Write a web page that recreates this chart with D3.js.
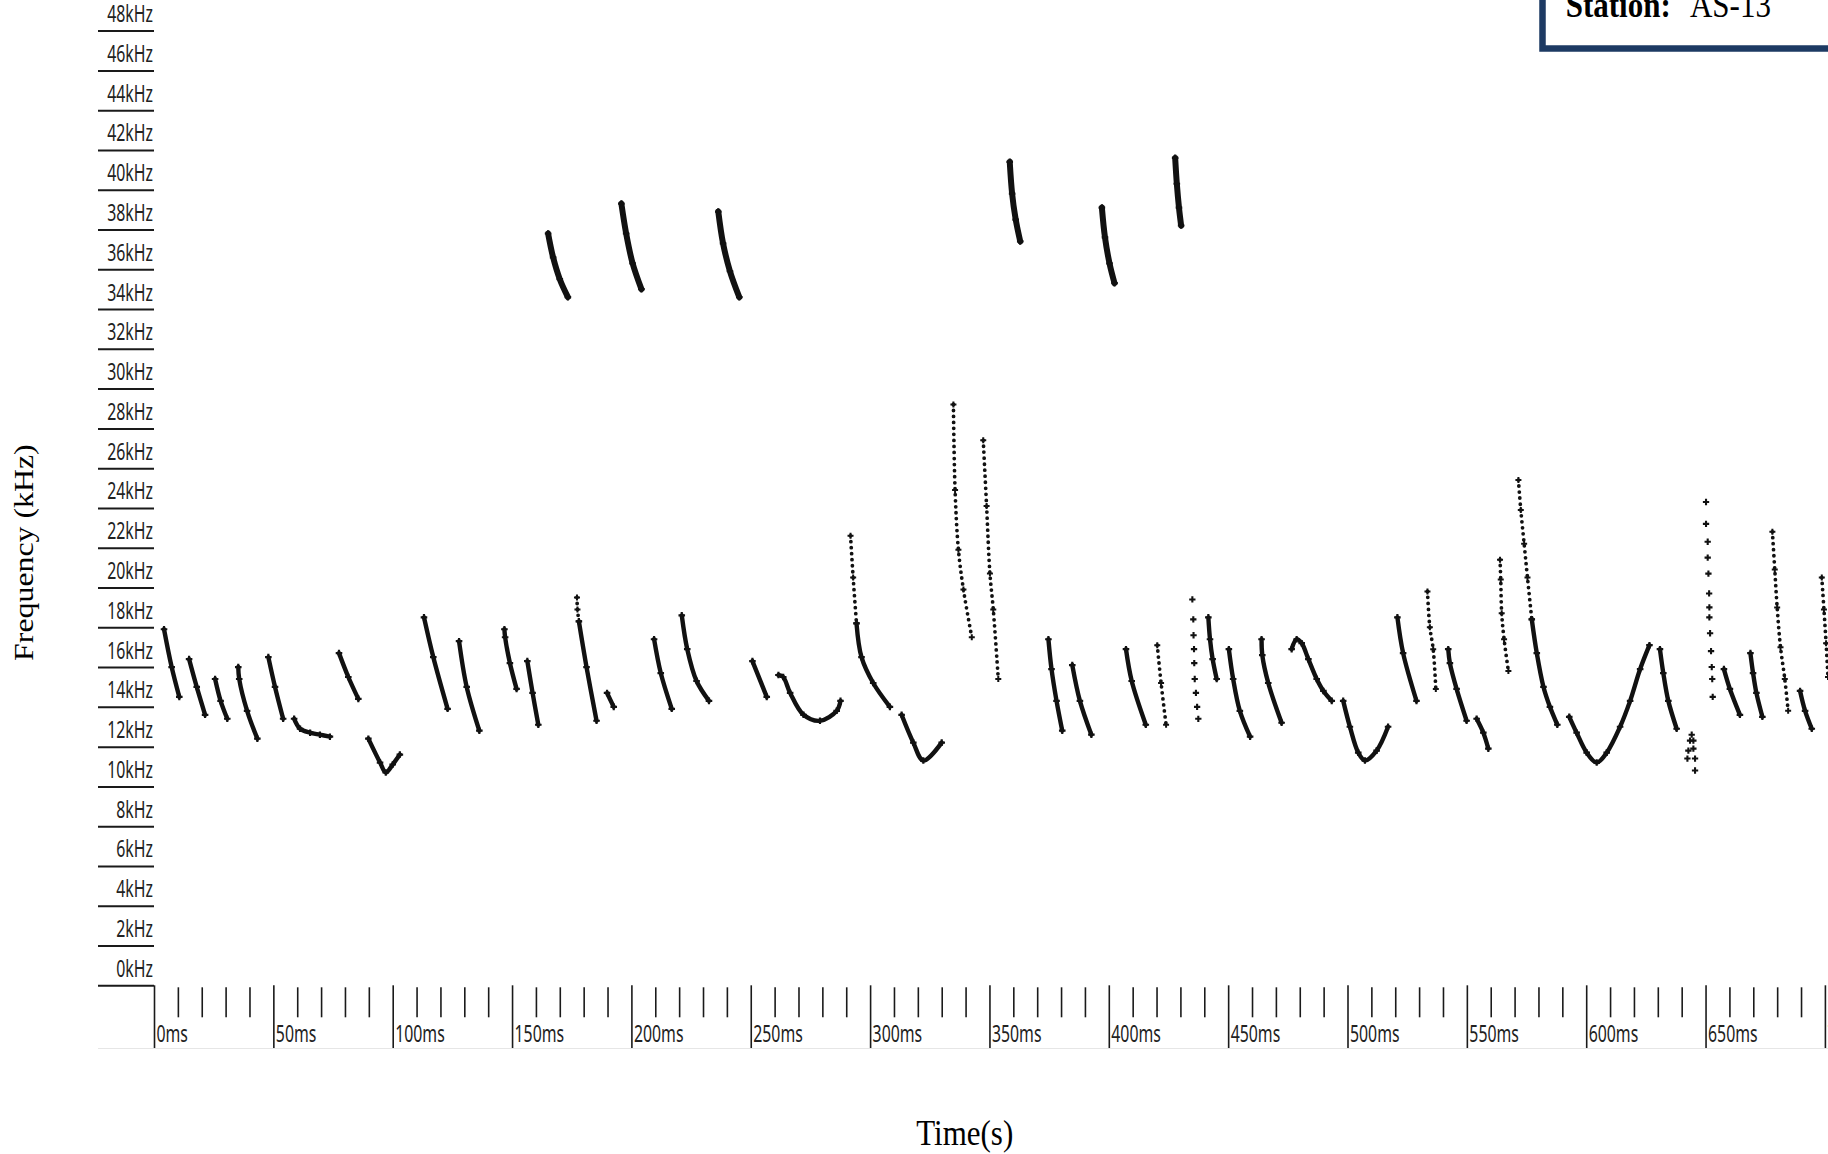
<!DOCTYPE html>
<html>
<head>
<meta charset="utf-8">
<script src="https://cdn.jsdelivr.net/npm/d3@7"></script>
<style>
body{margin:0;background:#fff;}
#batGraph{display:block;}
</style>
</head>
<body>
<svg id="batGraph"></svg>
<script>
// tick values
var freqTicks=[0,2,4,6,8,10,12,14,16,18,20,22,24,26,28,30,32,34,36,38,40,42,44,46,48]
var timeTicks=[0,50,100,150,200,250,300,350,400,450,500,550,600,650,700]
var minorTicks=[10,20,30,40,60,70,80,90,110,120,130,140,160,170,180,190,210,220,230,240,260,270,280,290,310,320,330,340,360,370,380,390,410,420,430,440,460,470,480,490,510,520,530,540,560,570,580,590,610,620,630,640,660,670,680,690]

// [ms, kHz] points
var lowCalls=[
 [[4.2,17.9],[7.4,16.0],[10.6,14.5]],
 [[14.7,16.4],[17.9,15.0],[21.4,13.6]],
 [[25.6,15.4],[27.9,14.3],[30.7,13.4]],
 [[35.3,16.0],[35.7,15.4],[39.0,13.8],[43.3,12.4]],
 [[47.9,16.5],[50.7,15.0],[54.1,13.4]],
 [[58.7,13.4],[61.2,12.9],[65.4,12.7],[69.5,12.6],[73.7,12.5]],
 [[77.5,16.7],[81.4,15.5],[85.6,14.4]],
 [[89.8,12.4],[94.7,11.2],[97.1,10.7],[100.0,11.1],[103.0,11.6]],
 [[113.1,18.5],[117.0,16.5],[123.0,13.9]],
 [[127.8,17.3],[131.0,15.0],[136.3,12.8]],
 [[146.8,17.9],[147.1,17.5],[149.1,16.2],[151.9,14.9]],
 [[156.4,16.3],[158.6,14.7],[161.0,13.1]],
 [[178.0,18.3],[181.2,16.0],[185.4,13.3]],
 [[189.8,14.7],[192.6,14.0]],
 [[209.5,17.4],[212.3,15.7],[216.9,13.9]],
 [[221.1,18.6],[223.4,16.9],[227.3,15.3],[232.5,14.3]],
 [[250.7,16.3],[256.7,14.5]],
 [[261.6,15.6],[263.6,15.5],[266.5,14.7],[272.1,13.6],[279.0,13.3],[286.0,13.8],[287.6,14.3]],
 [[294.3,18.2],[296.4,16.5],[301.3,15.2],[308.3,14.0]],
 [[313.2,13.6],[318.1,12.2],[322.3,11.3],[330.0,12.2]],
 [[374.7,17.4],[376.0,15.9],[378.1,14.3],[380.5,12.8]],
 [[384.7,16.1],[387.9,14.3],[392.7,12.6]],
 [[407.2,16.9],[409.6,15.3],[415.5,13.1]],
 [[441.7,18.5],[442.4,17.4],[443.5,16.4],[445.2,15.4]],
 [[450.3,16.9],[452.1,15.4],[454.9,13.8],[459.2,12.5]],
 [[464.0,17.4],[464.3,16.6],[466.8,15.2],[472.4,13.2]],
 [[476.6,16.9],[478.7,17.4],[480.8,17.2],[483.6,16.4],[487.1,15.4],[489.9,14.8],[493.4,14.3]],
 [[498.2,14.3],[501.0,13.0],[504.5,11.7],[507.3,11.3],[512.2,11.8],[517.0,13.0]],
 [[520.9,18.5],[523.3,16.7],[528.9,14.3]],
 [[542.2,16.9],[542.9,16.2],[545.7,14.9],[549.9,13.3]],
 [[554.1,13.4],[556.9,12.7],[559.0,11.9]],
 [[577.2,18.4],[579.3,16.7],[582.1,15.0],[584.8,14.0],[587.9,13.1]],
 [[592.9,13.5],[596.0,12.7],[600.2,11.7],[604.4,11.2],[608.6,11.7],[614.2,13.0],[618.4,14.3],[622.6,15.9],[626.5,17.1]],
 [[630.9,16.9],[632.3,15.7],[634.4,14.3],[637.9,12.9]],
 [[657.7,15.9],[660.2,14.9],[664.4,13.6]],
 [[668.8,16.7],[669.9,15.7],[671.3,14.7],[673.8,13.5]],
 [[689.6,14.8],[691.7,13.8],[694.5,12.9]]
]

var highCalls=[
 [[165.1,37.8],[167.2,36.6],[170.0,35.5],[173.4,34.6]],
 [[195.8,39.3],[197.8,37.8],[200.5,36.3],[204.2,35.0]],
 [[236.4,38.9],[238.4,37.3],[241.3,35.9],[245.2,34.6]],
 [[358.5,41.4],[359.5,39.8],[361.0,38.5],[362.9,37.4]],
 [[397.1,39.1],[398.4,37.6],[400.3,36.3],[402.4,35.3]],
 [[427.8,41.6],[428.5,40.3],[429.4,39.1],[430.3,38.2]]
]

// loosely spaced dot trains
var trainCalls=[
 [[177.2,19.5],[177.4,18.9],[178.0,18.3]],
 [[291.8,22.6],[292.9,20.5],[294.3,18.2]],
 [[334.9,29.2],[335.6,24.9],[337.0,21.9],[339.1,19.9],[342.6,17.5]],
 [[347.4,27.4],[348.8,24.1],[350.2,20.7],[351.6,18.9],[353.7,15.4]],
 [[420.3,17.1],[421.9,15.2],[424.0,13.1]],
 [[533.5,19.8],[534.5,18.0],[535.9,16.9],[537.0,14.9]],
 [[563.9,21.4],[564.2,20.4],[564.6,18.7],[565.6,17.4],[567.4,15.8]],
 [[571.6,25.4],[572.6,23.9],[574.0,22.2],[575.4,20.5],[577.2,18.4]],
 [[678.0,22.8],[679.0,20.9],[680.0,19.0],[681.4,17.0],[683.2,15.4],[684.6,13.8]],
 [[698.7,20.5],[699.6,18.9],[700.5,17.2],[701.3,15.5]]
]

// single dots, one entry per mark
var dotCalls=[
 [[435.0,19.4],[435.4,18.4],[435.5,17.6],[435.7,16.9],[435.8,16.2],[436.0,15.4],[436.5,14.7],[437.0,14.0],[437.5,13.4]],
 [[642.4,11.4],[642.8,11.8],[643.5,12.3],[644.2,12.6],[644.9,12.3],[644.9,11.9],[645.6,11.4],[645.6,10.8]],
 [[650.2,24.3],[650.2,23.2],[650.9,22.3],[650.9,21.5],[651.2,20.7],[651.5,19.7],[651.6,19.0],[651.6,18.5],[651.9,17.7],[652.3,16.8],[652.6,16.0],[652.8,15.4],[653.0,14.5]]
]

var stationName="AS-13"

var drawCalls=function(calls,target,xScale,yScale,width,dash)
{
    var line=d3.line()
        .x(function(d){return xScale(d[0])})
        .y(function(d){return yScale(d[1])})
        .curve(d3.curveCatmullRom.alpha(0.5))

    target.append("g")
        .selectAll("path")
        .data(calls)
        .enter()
        .append("path")
        .attr("d",line)
        .attr("fill","none")
        .attr("stroke","#111")
        .attr("stroke-width",width)
        .attr("stroke-linecap","round")
        .attr("stroke-linejoin","round")
        .attr("stroke-dasharray",dash)
}

var drawDots=function(calls,target,xScale,yScale,size)
{
    var pts=[]
    calls.forEach(function(c){c.forEach(function(p){pts.push(p)})})
    target.append("g")
        .selectAll("path")
        .data(pts)
        .enter()
        .append("path")
        .attr("d",d3.symbol(d3.symbolCross,size))
        .attr("transform",function(d){
            return "translate("+xScale(d[0])+","+yScale(d[1])+")"
        })
        .attr("fill","#111")
}

var drawAxes=function(svg,xScale,yScale)
{
    var yAxis=d3.axisLeft(yScale)
        .tickValues(freqTicks)
        .tickSize(56)
        .tickFormat(function(d){return d+"kHz"})

    var ya=svg.append("g")
        .attr("class","yaxis")
        .attr("transform","translate(154,0)")
        .call(yAxis)
    ya.select(".domain").remove()
    ya.selectAll("line").attr("stroke","#1a1a1a").attr("stroke-width",2)
    ya.selectAll("text")
        .attr("x",0).attr("dy",null)
        .attr("text-anchor","end")
        .attr("transform","translate(-1,-9) scale(0.66,1)")
        .attr("font-family","Noto Sans")
        .attr("font-size",24)
        .attr("fill","#222")

    var xAxis=d3.axisBottom(xScale)
        .tickValues(timeTicks)
        .tickSize(63)
        .tickFormat(function(d){return d+"ms"})

    var xa=svg.append("g")
        .attr("class","xaxis")
        .attr("transform","translate(0,985.3)")
        .call(xAxis)
    xa.select(".domain").remove()
    xa.selectAll("line").attr("stroke","#1a1a1a").attr("stroke-width",1.6)
    xa.selectAll("text")
        .attr("y",0).attr("dy",null)
        .attr("text-anchor","start")
        .attr("transform","translate(2,57) scale(0.66,1)")
        .attr("font-family","Noto Sans")
        .attr("font-size",24)
        .attr("fill","#222")

    var xMinor=d3.axisBottom(xScale)
        .tickValues(minorTicks)
        .tickSize(30)
        .tickFormat("")

    var xm=svg.append("g")
        .attr("class","xminor")
        .attr("transform","translate(0,987.3)")
        .call(xMinor)
    xm.select(".domain").remove()
    xm.selectAll("line").attr("stroke","#1a1a1a").attr("stroke-width",1.6)

    svg.append("line")
        .attr("x1",98).attr("x2",1828)
        .attr("y1",1048.5).attr("y2",1048.5)
        .attr("stroke","#e6e6e6")
        .attr("stroke-width",1)
}

var drawLabels=function(svg)
{
    svg.append("text")
        .text("Frequency (kHz)")
        .attr("text-anchor","middle")
        .attr("transform","translate(33,552.6) rotate(-90) scale(1.18,1)")
        .attr("font-family","Liberation Serif")
        .attr("font-size",27)
        .attr("fill","#000")

    svg.append("text")
        .text("Time(s)")
        .attr("text-anchor","middle")
        .attr("transform","translate(964.7,1145) scale(1,1.18)")
        .attr("font-family","Liberation Serif")
        .attr("font-size",31)
        .attr("fill","#000")

    svg.append("rect")
        .attr("x",1542.5).attr("y",-30)
        .attr("width",400).attr("height",78.5)
        .attr("fill","#fff")
        .attr("stroke","#1d3a63")
        .attr("stroke-width",6.5)

    var st=svg.append("text")
        .attr("transform","translate(1565.7,17) scale(1,1.18)")
        .attr("font-family","Liberation Serif")
        .attr("font-size",31)
        .attr("fill","#000")
    st.append("tspan").attr("x",0).attr("font-weight","bold").text("Station:")
    st.append("tspan").attr("x",124.3).text(stationName)
}

var initGraph=function()
{
    var screen={width:1828,height:1154}
    var svg=d3.select("#batGraph")
        .attr("width",screen.width)
        .attr("height",screen.height)

    var xScale=d3.scaleLinear()
        .domain([0,700])
        .range([154,1824.9])
    var yScale=d3.scaleLinear()
        .domain([0,48])
        .range([985.3,30.6])

    drawAxes(svg,xScale,yScale)

    var plot=svg.append("g").attr("class","calls")
    drawCalls(lowCalls,plot,xScale,yScale,4.4,null)
    drawCalls(highCalls,plot,xScale,yScale,6,null)
    drawCalls(trainCalls,plot,xScale,yScale,3.8,"0,6")
    drawDots(lowCalls,plot,xScale,yScale,24)
    drawDots(highCalls,plot,xScale,yScale,24)
    drawDots(trainCalls,plot,xScale,yScale,20)
    drawDots(dotCalls,plot,xScale,yScale,22)

    drawLabels(svg)
}

initGraph()
</script>
</body>
</html>
